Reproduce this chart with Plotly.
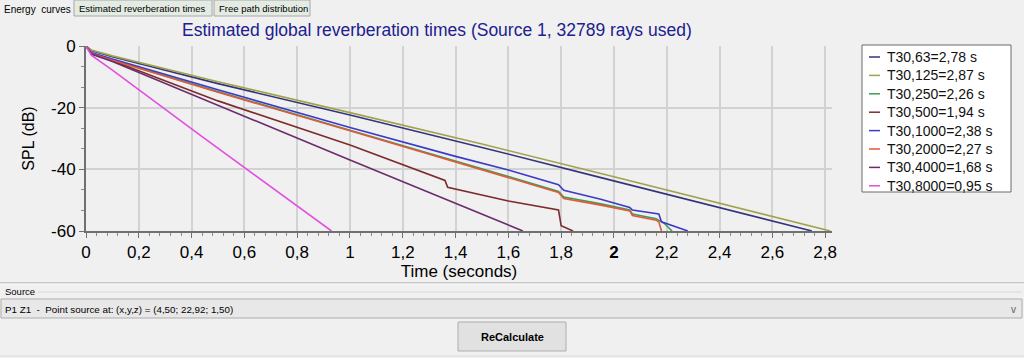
import plotly.graph_objects as go

# ---------------- data ----------------
names = ["T30,63=2,78 s", "T30,125=2,87 s", "T30,250=2,26 s", "T30,500=1,94 s",
         "T30,1000=2,38 s", "T30,2000=2,27 s", "T30,4000=1,68 s", "T30,8000=0,95 s"]
colors = ["#34347e", "#a2a24e", "#3f9c55", "#7c2c2c",
          "#3b3bc8", "#e2583a", "#6c2c6c", "#e24ee2"]

t63 = [0, 0.02, 0.1, 0.5, 1.0, 1.5, 1.947, 2.4, 2.75]
db63 = [0, -1.5, -3.5, -12.2, -22.4, -32.9, -42.6, -52.4, -60]

t125 = [0, 0.02, 0.1, 0.5, 1.0, 1.5, 1.947, 2.4, 2.82]
db125 = [0, -1.3, -3.2, -11.6, -21.6, -31.8, -41.3, -51.0, -60]

t250 = [0, 0.02, 0.1, 0.5, 1.0, 1.4, 1.6, 1.79, 1.81, 1.95, 2.06, 2.07, 2.16, 2.19, 2.22]
db250 = [0, -2.3, -4.5, -14.8, -27.3, -37.2, -42.3, -47.2, -49.0, -51.2, -53.2, -54.5, -56.0, -57.5, -60]

t500 = [0, 0.02, 0.1, 0.5, 1.0, 1.36, 1.37, 1.6, 1.79, 1.8, 1.845]
db500 = [0, -2.5, -4.8, -17.8, -32.1, -43.6, -45.8, -50.3, -53.2, -58.3, -60]

t1000 = [0, 0.02, 0.1, 0.5, 1.0, 1.4, 1.6, 1.79, 1.81, 1.95, 2.06, 2.07, 2.17, 2.18, 2.28]
db1000 = [0, -2.1, -4.2, -14.2, -26.4, -35.8, -40.2, -45.0, -46.8, -49.7, -52.4, -53.2, -54.5, -57.0, -60]

t2000 = [0, 0.02, 0.1, 0.5, 1.0, 1.4, 1.6, 1.79, 1.81, 1.95, 2.06, 2.07, 2.16, 2.17, 2.18]
db2000 = [0, -2.4, -4.6, -15.0, -27.5, -37.6, -42.6, -47.5, -49.5, -51.6, -53.5, -55.0, -56.5, -57.0, -60]

t4000 = [0, 0.02, 0.1, 0.5, 1.0, 1.3, 1.655]
db4000 = [0, -2.6, -5.0, -19.3, -37.0, -47.5, -60]

t8000 = [0, 0.02, 0.1, 0.432, 0.93]
db8000 = [0, -3.0, -7.8, -28.9, -60]

x_tickvals = [0, 0.2, 0.4, 0.6, 0.8, 1, 1.2, 1.4, 1.6, 1.8, 2, 2.2, 2.4, 2.6, 2.8]
x_ticktext = ["0", "0,2", "0,4", "0,6", "0,8", "1", "1,2", "1,4", "1,6", "1,8",
              "<b>2</b>", "2,2", "2,4", "2,6", "2,8"]
y_tickvals = [0, -20, -40, -60]
y_ticktext = ["0", "-20", "-40", "-60"]

title_text = "Estimated global reverberation times (Source 1, 32789 rays used)"
tab_labels = ["Energy  curves", "Estimated reverberation times", "Free path distribution"]
source_text = "P1 Z1  -  Point source at: (x,y,z) = (4,50; 22,92; 1,50)"

series_t = [t63, t125, t250, t500, t1000, t2000, t4000, t8000]
series_db = [db63, db125, db250, db500, db1000, db2000, db4000, db8000]

# ---------------- layout geometry ----------------
W, H = 1024, 358
ML, MR, MT, MB = 86, 192, 46, 127
PW, PH = W - ML - MR, H - MT - MB


def px(x):
    return (x - ML) / PW


def py(y):
    return (H - MB - y) / PH


BG = "#f0f0f0"
CHART_FONT = "Liberation Sans, Arial, sans-serif"
UI_FONT = "Liberation Sans, Arial, sans-serif"

fig = go.Figure()
for t, d, n, c in zip(series_t, series_db, names, colors):
    fig.add_trace(go.Scatter(x=t, y=d, mode="lines", name=n,
                             line=dict(color=c, width=1.6), showlegend=False))

shapes = []
annotations = []

# title
annotations.append(dict(text=title_text, xref="paper", yref="paper",
                        x=px(437), y=py(30), xanchor="center", yanchor="middle",
                        showarrow=False, font=dict(family=CHART_FONT, size=17.5, color="#20208e")))

# manual legend box
lx0, lx1, ly0, ly1 = 862, 1011, 45, 192
shapes.append(dict(type="rect", xref="paper", yref="paper",
                   x0=px(lx0), x1=px(lx1), y0=py(ly1), y1=py(ly0),
                   fillcolor="#ffffff", line=dict(color="#6a6a6a", width=1), layer="above"))
for i, (n, c) in enumerate(zip(names, colors)):
    yy = 57 + i * 18.4
    shapes.append(dict(type="line", xref="paper", yref="paper",
                       x0=px(869), x1=px(880), y0=py(yy), y1=py(yy),
                       line=dict(color=c, width=1.5), layer="above"))
    annotations.append(dict(text=n, xref="paper", yref="paper", x=px(885), y=py(yy),
                            xanchor="left", yanchor="middle", showarrow=False,
                            font=dict(family=CHART_FONT, size=14, color="#111111")))

# tabs
annotations.append(dict(text=tab_labels[0], xref="paper", yref="paper", x=px(2), y=py(9),
                        xanchor="left", yanchor="middle", showarrow=False,
                        font=dict(family=UI_FONT, size=10, color="#000000")))
for (x0, x1, lab) in [(74, 212, tab_labels[1]), (214, 310, tab_labels[2])]:
    shapes.append(dict(type="rect", xref="paper", yref="paper",
                       x0=px(x0), x1=px(x1), y0=py(16), y1=py(0),
                       fillcolor="#e3ebe3", line=dict(color="#a8a8a8", width=1)))
    annotations.append(dict(text=lab, xref="paper", yref="paper", x=px(x0 + 3), y=py(8),
                            xanchor="left", yanchor="middle", showarrow=False,
                            font=dict(family=UI_FONT, size=9.5, color="#000000")))

# bottom separator
shapes.append(dict(type="line", xref="paper", yref="paper", x0=px(0), x1=px(1024),
                   y0=py(283), y1=py(283), line=dict(color="#a0a0a0", width=1)))
shapes.append(dict(type="line", xref="paper", yref="paper", x0=px(0), x1=px(1024),
                   y0=py(284), y1=py(284), line=dict(color="#ffffff", width=1)))
# source group label + line
annotations.append(dict(text="Source", xref="paper", yref="paper", x=px(3), y=py(291),
                        xanchor="left", yanchor="middle", showarrow=False,
                        font=dict(family=UI_FONT, size=9.5, color="#000000")))
shapes.append(dict(type="line", xref="paper", yref="paper", x0=px(38), x1=px(1022),
                   y0=py(292), y1=py(292), line=dict(color="#d8d8d8", width=1)))
# combo box
shapes.append(dict(type="rect", xref="paper", yref="paper", x0=px(1), x1=px(1022),
                   y0=py(318), y1=py(299), fillcolor="#e8e8e8", line=dict(color="#adadad", width=1)))
annotations.append(dict(text=source_text, xref="paper", yref="paper", x=px(3), y=py(309),
                        xanchor="left", yanchor="middle", showarrow=False,
                        font=dict(family=UI_FONT, size=9.8, color="#000000")))
annotations.append(dict(text="v", xref="paper", yref="paper", x=px(1013), y=py(309),
                        xanchor="center", yanchor="middle", showarrow=False,
                        font=dict(family=UI_FONT, size=10, color="#606060")))
# button
shapes.append(dict(type="rect", xref="paper", yref="paper", x0=px(458), x1=px(566),
                   y0=py(351), y1=py(322), fillcolor="#e1e1e1", line=dict(color="#adadad", width=1)))
annotations.append(dict(text="<b>ReCalculate</b>", xref="paper", yref="paper", x=px(512), y=py(337),
                        xanchor="center", yanchor="middle", showarrow=False,
                        font=dict(family=UI_FONT, size=11, color="#000000")))
shapes.append(dict(type="line", xref="paper", yref="paper", x0=px(0), x1=px(1024),
                   y0=py(356), y1=py(356), line=dict(color="#dcdcdc", width=1)))

fig.update_layout(
    width=W, height=H,
    margin=dict(l=ML, r=MR, t=MT, b=MB, pad=0),
    paper_bgcolor=BG, plot_bgcolor=BG,
    shapes=shapes, annotations=annotations,
    showlegend=False,
    font=dict(family=CHART_FONT, color="#000000"),
)
fig.update_xaxes(
    range=[0, 2.826], tickvals=x_tickvals, ticktext=x_ticktext,
    showgrid=True, gridcolor="#d2d2d2", gridwidth=1.5,
    showline=True, linecolor="#707070", linewidth=2,
    ticks="outside", ticklen=5, tickcolor="#707070", tickwidth=1,
    minor=dict(dtick=0.04, tick0=0, ticks="outside", ticklen=3, tickcolor="#8a8a8a", showgrid=False),
    tickfont=dict(size=17, family=CHART_FONT, color="#000000"),
    title=dict(text="Time (seconds)", font=dict(size=17, family=CHART_FONT), standoff=4),
    zeroline=False,
)
fig.update_yaxes(
    range=[-60, 0], tickvals=y_tickvals, ticktext=y_ticktext,
    showgrid=True, gridcolor="#d2d2d2", gridwidth=1.5,
    showline=True, linecolor="#707070", linewidth=2,
    ticks="outside", ticklen=5, tickcolor="#707070", tickwidth=1,
    minor=dict(dtick=20 / 3, tick0=0, ticks="outside", ticklen=3, tickcolor="#8a8a8a", showgrid=False),
    tickfont=dict(size=17, family=CHART_FONT, color="#000000"),
    title=dict(text="SPL (dB)", font=dict(size=16, family=CHART_FONT), standoff=12),
    zeroline=False,
)

fig.write_html("out.html", config={"displayModeBar": False},
               post_script="document.body.style.margin='0';document.body.style.overflow='hidden';")
